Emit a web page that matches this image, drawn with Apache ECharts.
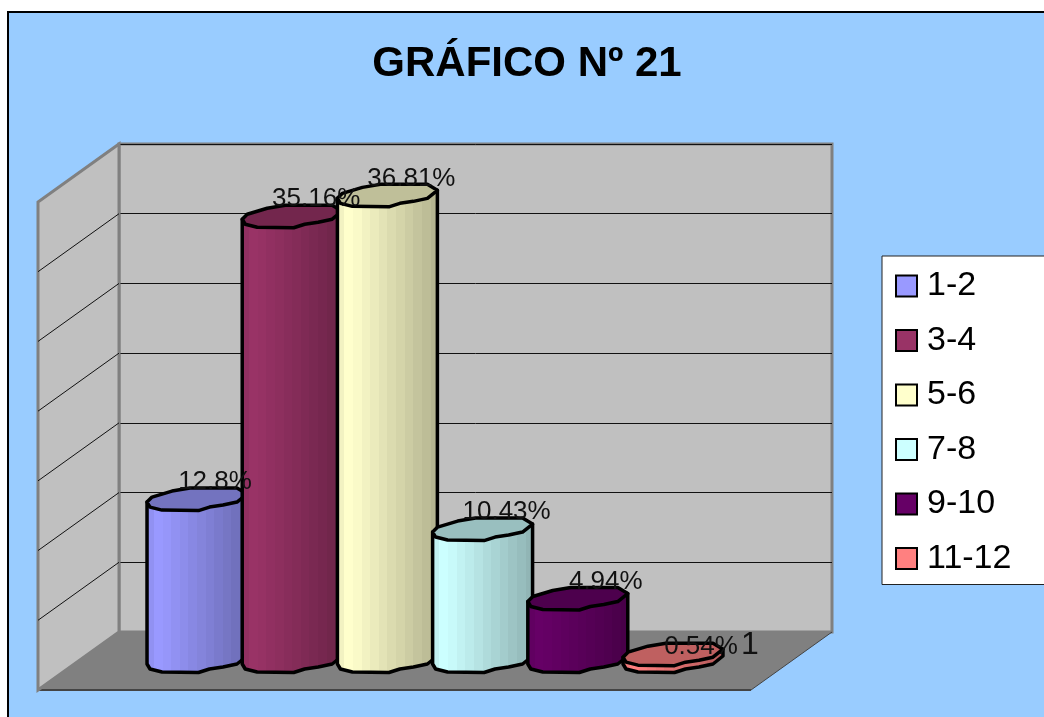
<!DOCTYPE html>
<html>
<head>
<meta charset="utf-8">
<style>html,body{margin:0;padding:0;background:#fff;overflow:hidden}#c{width:1044px;height:717px}</style>
<script src="https://cdn.jsdelivr.net/npm/echarts@6/dist/echarts.min.js"></script>
</head>
<body>
<div id="c"></div>
<script>
const titleText = 'GRÁFICO Nº 21';
const groups = ['1-2', '3-4', '5-6', '7-8', '9-10', '11-12'];
const percents = [12.8, 35.16, 36.81, 10.43, 4.94, 0.54];
const percentLabels = ['12.8%', '35.16%', '36.81%', '10.43%', '4.94%', '0.54%'];
const colors = ['#9999FF', '#993366', '#FFFFCC', '#CCFFFF', '#660066', '#FF8080'];
const wallTicks = [5, 10, 15, 20, 25, 30];
const categoryLabel = '1';

const FONT = '"Liberation Sans", Arial, sans-serif';
const depth = [-81, 58];
const labelNudge = [[-6, 0], [0, 0], [0, 0], [0, 0], [4, 0], [4, 10]];
const upperRim = [[1, -5], [0.8, -11], [-0.14, -11], [-0.5, -8], [-0.9, -2], [-1, 3]];
const lowerRim = [[-1, 3], [-0.94, 8], [-0.7, 11], [0.03, 11.5], [0.25, 8], [0.52, 6], [0.8, 3], [1, -5]];
const bandShades = [0.95, 1, 0.98, 0.95, 0.92, 0.89, 0.86, 0.83, 0.8, 0.77, 0.74, 0.71];

function shade(hex, f) {
  const n = parseInt(hex.slice(1), 16);
  const c = [n >> 16, (n >> 8) & 255, n & 255].map(v => Math.round(v * f));
  return 'rgb(' + c.join(',') + ')';
}
function bodyFill(hex) {
  const stops = [];
  const w = 1 / bandShades.length;
  bandShades.forEach((f, i) => {
    stops.push({ offset: i * w, color: shade(hex, f) });
    stops.push({ offset: (i + 1) * w, color: shade(hex, f) });
  });
  return { type: 'linear', x: 0, y: 0, x2: 1, y2: 0, colorStops: stops };
}

function cylinder(i) {
  return function (params, api) {
    const idx = api.value(0), val = api.value(1);
    const top = api.coord([idx, val]);
    const base = api.coord([idx, 0]);
    const r = api.size([1, 0])[0] * 0.525;
    const cx = top[0];
    const at = (p, y) => [cx + p[0] * r, y + p[1]];
    const body = [at([-1, 3], top[1])]
      .concat(lowerRim.map(p => at(p, base[1])))
      .concat([at([1, -5], top[1])]);
    const cap = lowerRim.map(p => at(p, top[1])).concat(upperRim.slice(1, -1).map(p => at(p, top[1])));
    return {
      type: 'group',
      children: [
        { type: 'polygon', z2: i * 2, shape: { points: body },
          style: { fill: bodyFill(colors[i]), stroke: '#000', lineWidth: 3.5, lineJoin: 'round' } },
        { type: 'polygon', z2: i * 2 + 1, shape: { points: cap },
          style: { fill: shade(colors[i], 0.75), stroke: '#000', lineWidth: 3.5, lineJoin: 'round' } },
        { type: 'text', z2: 100, x: cx + 24 + labelNudge[i][0], y: top[1] - 17 + labelNudge[i][1],
          style: { text: percentLabels[i], font: '26px ' + FONT, fill: '#111', align: 'center', verticalAlign: 'middle' } }
      ]
    };
  };
}

function shell(params, api) {
  const p = (x, v) => api.coord([x, v]);
  const off = q => [q[0] + depth[0], q[1] + depth[1]];
  const bl = p(0, 0), br = p(1, 0), tl = p(0, 35);
  const kids = [
    { type: 'polygon', shape: { points: [bl, br, off(br), off(bl)] },
      style: { fill: '#808080', stroke: null } },
    { type: 'line', shape: { x1: off(bl)[0], y1: off(bl)[1], x2: off(br)[0], y2: off(br)[1] },
      style: { stroke: '#444', lineWidth: 2 } },
    { type: 'line', shape: { x1: br[0], y1: br[1], x2: off(br)[0], y2: off(br)[1] },
      style: { stroke: '#444', lineWidth: 1 } },
    { type: 'polygon', shape: { points: [tl, bl, off(bl), off(tl)] },
      style: { fill: '#C0C0C0', stroke: '#808080', lineWidth: 3, lineJoin: 'miter' } }
  ];
  wallTicks.forEach(t => {
    const a = p(0, t), b = off(a);
    kids.push({ type: 'line', shape: { x1: a[0], y1: a[1], x2: b[0], y2: b[1] },
      style: { stroke: '#111', lineWidth: 1 } });
  });
  return { type: 'group', children: kids };
}

const chart = echarts.init(document.getElementById('c'), null, { renderer: 'canvas' });
chart.setOption({
  animation: false,
  backgroundColor: '#fff',
  textStyle: { fontFamily: FONT },
  title: {
    text: titleText, left: 522, top: 38, textAlign: 'center',
    textStyle: { fontFamily: FONT, fontSize: 42, fontWeight: 'bold', color: '#000' }
  },
  graphic: [
    { type: 'rect', z: -10, silent: true, shape: { x: 8, y: 12, width: 1060, height: 730 },
      style: { fill: '#99CCFF', stroke: '#000', lineWidth: 2 } },
    { type: 'text', z: 50, left: 741, top: 629,
      style: { text: categoryLabel, font: '32px ' + FONT, fill: '#111' } }
  ],
  legend: {
    data: groups, orient: 'vertical', left: 882, top: 256,
    padding: [13, 60, 9, 13], itemGap: 20.5, itemWidth: 21, itemHeight: 21,
    icon: 'rect', backgroundColor: '#fff', borderColor: '#222', borderWidth: 1,
    selectedMode: false,
    itemStyle: { borderColor: '#000', borderWidth: 2 },
    textStyle: { fontFamily: FONT, fontSize: 34, color: '#000', padding: [0, 0, 0, 5] }
  },
  grid: [
    { left: 119, top: 144, width: 713, height: 488, show: true, backgroundColor: '#C0C0C0',
      borderColor: '#808080', borderWidth: 3 },
    { left: 149.4, top: 155, width: 571.2, height: 506 }
  ],
  xAxis: [
    { gridIndex: 0, type: 'value', min: 0, max: 1, show: false },
    { gridIndex: 1, type: 'category', data: groups, show: false }
  ],
  yAxis: [
    { gridIndex: 0, type: 'value', min: 0, max: 35, interval: 5,
      axisLabel: { show: false }, axisLine: { show: false }, axisTick: { show: false },
      splitLine: { show: true, lineStyle: { color: '#111', width: 1 } } },
    { gridIndex: 1, type: 'value', min: 0, max: 40, show: false, splitLine: { show: false } }
  ],
  series: [
    { type: 'custom', name: 'shell', xAxisIndex: 0, yAxisIndex: 0, z: 1, silent: true,
      renderItem: shell, data: [[0, 0]], clip: false }
  ].concat(groups.map((g, i) => ({
    type: 'custom', name: g, xAxisIndex: 1, yAxisIndex: 1, z: 3, clip: false,
    itemStyle: { color: colors[i] }, renderItem: cylinder(i),
    encode: { x: 0, y: 1 }, data: [[i, percents[i]]]
  })))
});
</script>
</body>
</html>
